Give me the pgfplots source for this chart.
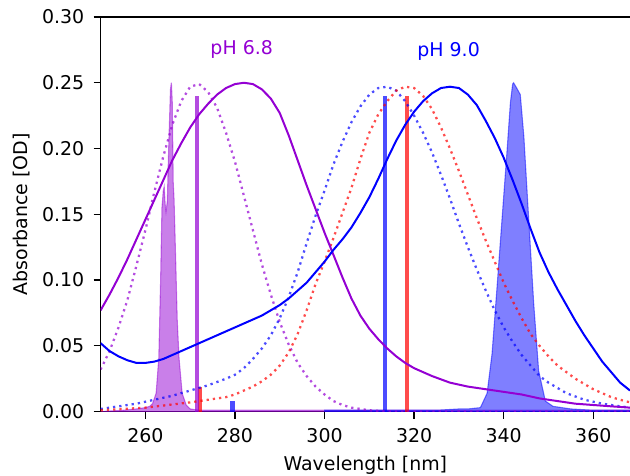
\documentclass[border=0pt]{standalone}
\usepackage{pgfplots}
\pgfplotsset{compat=1.18}
\usepackage{fontspec}
\setmainfont{DejaVu Sans}

\definecolor{violet}{RGB}{148,0,211}

\begin{document}
\begin{tikzpicture}[font=\fontsize{14.2}{17}\selectfont]
\begin{axis}[
    scale only axis,
    width=397pt, height=295.9pt,
    xmin=250, xmax=368.2,
    ymin=0, ymax=0.30,
    axis x line=box,
    axis y line=left,
    axis line style={-, line width=1.1pt},
    xtick={260,280,...,360},
    ytick={0,0.05,...,0.31},
    xtick pos=lower,
    ytick pos=left,
    tick align=outside,
    major tick length=5.25pt,
    tick style={line width=1pt, black},
    /pgf/number format/assume math mode=true,
    yticklabel style={xshift=-3.5pt, /pgf/number format/.cd, fixed, fixed zerofill, precision=2},
    xticklabel style={yshift=-3.5pt},
    xlabel={Wavelength [nm]},
    ylabel={Absorbance [OD]},
    every axis x label/.style={at={(axis description cs:0.5,0)}, anchor=base, yshift=-43.9pt},
    every axis y label/.style={at={(axis description cs:0,0.5)}, xshift=-59.3pt, rotate=90, anchor=center},
    clip=true,
]

% excitation / emission bands (filled)
\addplot[draw=violet, draw opacity=0.5, fill=violet, fill opacity=0.5, line width=0.8pt] coordinates {
(250,0.000) (255,0.001) (258,0.002) (260,0.003) (261,0.004) (261.6,0.006) (262.4,0.014)
(263.0,0.041) (263.4,0.100) (263.7,0.155) (264.0,0.168) (264.2,0.171) (264.4,0.158)
(264.6,0.152) (264.9,0.160) (265.2,0.200) (265.6,0.245) (265.8,0.250) (266.0,0.235)
(266.2,0.175) (266.4,0.161) (266.8,0.110) (267.1,0.070) (267.5,0.041) (268.2,0.014)
(269.1,0.005) (270,0.002) (272,0.001) (290,0.001) (320,0.001) (368.2,0.001)
} \closedcycle;

\addplot[draw=blue, draw opacity=0.5, fill=blue, fill opacity=0.5, line width=0.8pt] coordinates {
(300,0.001) (325,0.001) (330,0.002) (332,0.002) (334.8,0.003) (336.3,0.014) (337.4,0.044)
(338.5,0.094) (339.6,0.145) (340.7,0.196) (341.5,0.235) (342.0,0.249) (342.2,0.250)
(342.9,0.246) (343.7,0.241) (344.5,0.209) (345.6,0.145) (346.7,0.082) (347.8,0.031)
(349.3,0.008) (351,0.004) (355,0.002) (360,0.001) (368.2,0.001)
} \closedcycle;

% stick spectra
\addplot[ycomb, draw=red, draw opacity=0.7, line width=2.4pt, mark=none] coordinates {(272.2,0.019)};
\addplot[ycomb, draw=violet, draw opacity=0.7, line width=3.4pt, mark=none] coordinates {(271.5,0.240)};
\addplot[ycomb, draw=blue, draw opacity=0.7, line width=3.4pt, mark=none] coordinates {(279.5,0.008) (313.5,0.240)};
\addplot[ycomb, draw=red, draw opacity=0.7, line width=3.4pt, mark=none] coordinates {(318.4,0.240)};

% calculated spectra (dotted)
\addplot[violet, opacity=0.7, line width=1.7pt, dash pattern=on 1.7pt off 3pt] coordinates {
(250,0.032) (252,0.046) (254,0.064) (256,0.085) (258,0.111) (260,0.138) (262,0.167)
(264,0.194) (266,0.218) (268,0.236) (270,0.247) (272,0.249) (274,0.243) (276,0.231)
(278,0.212) (280,0.190) (282,0.164) (284,0.138) (286,0.112) (288,0.089) (290,0.068)
(292,0.051) (294,0.037) (296,0.027) (298,0.019) (300,0.013) (302,0.008) (304,0.005)
(306,0.003) (308,0.002) (310,0.001) (314,0.000) (368.2,0.000)
};

\addplot[blue, opacity=0.7, line width=1.7pt, dash pattern=on 1.7pt off 3pt] coordinates {
(250,0.002) (254,0.004) (258,0.006) (262,0.009) (266,0.012) (270,0.016) (274,0.020)
(278,0.025) (280,0.028) (282,0.033) (284,0.040) (286,0.048) (288,0.058) (290,0.071)
(292,0.087) (294,0.106) (296,0.128) (298,0.149) (300,0.168) (302,0.188) (304,0.205)
(306,0.220) (308,0.232) (310,0.241) (312,0.246) (314,0.247) (316,0.244) (318,0.236)
(320,0.225) (322,0.212) (324,0.197) (326,0.180) (328,0.162) (330,0.143) (332,0.125)
(334,0.108) (336,0.092) (338,0.077) (340,0.064) (342,0.053) (344,0.043) (346,0.035)
(348,0.027) (350,0.022) (354,0.014) (358,0.009) (362,0.006) (366,0.004) (368.2,0.003)
};

\addplot[red, opacity=0.7, line width=1.7pt, dash pattern=on 1.7pt off 3pt] coordinates {
(250,0.001) (255,0.002) (260,0.003) (265,0.005) (270,0.007) (274,0.009) (278,0.011)
(280,0.013) (282,0.016) (284,0.019) (286,0.023) (288,0.028) (290,0.035) (292,0.045)
(294,0.059) (296,0.077) (298,0.097) (300,0.114) (302,0.132) (304,0.151) (306,0.170)
(308,0.192) (310,0.212) (312,0.226) (314,0.236) (316,0.244) (318,0.247) (320,0.246)
(322,0.240) (324,0.230) (326,0.216) (328,0.200) (330,0.183) (332,0.165) (334,0.147)
(336,0.130) (338,0.114) (340,0.098) (342,0.084) (344,0.071) (346,0.059) (348,0.050)
(350,0.042) (352,0.035) (354,0.030) (356,0.025) (358,0.021) (360,0.017) (362,0.014)
(364,0.011) (366,0.009) (368.2,0.007)
};

% measured spectra (solid)
\addplot[violet, line width=1.5pt] coordinates {
(250,0.077) (252,0.089) (254,0.102) (256,0.116) (258,0.131) (260,0.146) (262,0.161)
(264,0.176) (266,0.191) (268,0.204) (270,0.216) (272,0.226) (274,0.234) (276,0.241)
(278,0.246) (280,0.249) (282,0.250) (284,0.249) (286,0.245) (288,0.238) (290,0.227)
(292,0.210) (294,0.191) (296,0.172) (298,0.154) (300,0.136) (302,0.119) (304,0.102)
(306,0.086) (308,0.073) (310,0.063) (312,0.055) (314,0.048) (316,0.042) (318,0.037)
(320,0.033) (324,0.027) (328,0.022) (332,0.019) (336,0.017) (340,0.015) (344,0.013)
(348,0.010) (352,0.008) (356,0.006) (360,0.005) (364,0.004) (368.2,0.003)
};

\addplot[blue, line width=1.5pt] coordinates {
(250,0.052) (252,0.046) (254,0.042) (256,0.039) (258,0.037) (260,0.037) (262,0.038)
(264,0.040) (266,0.043) (268,0.046) (270,0.049) (272,0.052) (274,0.055) (276,0.058)
(278,0.061) (280,0.064) (282,0.067) (284,0.070) (286,0.073) (288,0.077) (290,0.081)
(292,0.086) (294,0.092) (296,0.098) (298,0.106) (300,0.114) (302,0.123) (304,0.131)
(306,0.140) (308,0.151) (310,0.163) (312,0.177) (314,0.192) (316,0.206) (318,0.218)
(320,0.228) (322,0.236) (324,0.242) (326,0.246) (328,0.247) (330,0.246) (332,0.241)
(334,0.233) (336,0.221) (338,0.208) (340,0.193) (342,0.176) (344,0.158) (346,0.139)
(348,0.121) (350,0.106) (352,0.093) (354,0.081) (356,0.069) (358,0.058) (360,0.048)
(362,0.038) (364,0.030) (366,0.022) (368.2,0.016)
};

\node[text=violet] at (axis cs:281.5,0.275) {pH 6.8};
\node[text=blue] at (axis cs:327.7,0.274) {pH 9.0};

\coordinate (ll) at (rel axis cs:0,0);
\coordinate (ur) at (rel axis cs:1,1);
\end{axis}
\pgfresetboundingbox
\path[use as bounding box] ([shift={(-75.45pt,-47.6pt)}]ll) rectangle ([shift={(0pt,12.75pt)}]ur);
\end{tikzpicture}
\end{document}
